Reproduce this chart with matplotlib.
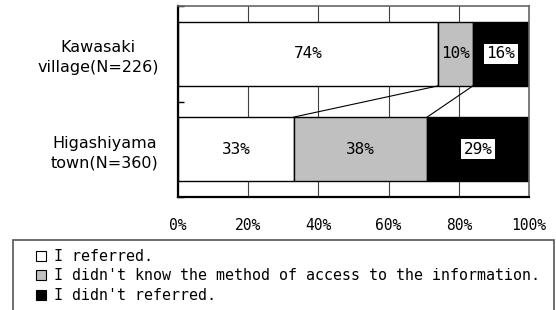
import matplotlib
matplotlib.use("Agg")
import matplotlib.pyplot as plt
from matplotlib.patches import Patch, Rectangle
import numpy as np

categories = ["Kawasaki\nvillage(N=226)", "Higashiyama\ntown(N=360)"]
series_names = ["I referred.",
                "I didn't know the method of access to the information.",
                "I didn't referred."]
referred = [74, 33]
unknown = [10, 38]
not_referred = [16, 29]
xticks = [0, 20, 40, 60, 80, 100]
xtick_labels = ["0%", "20%", "40%", "60%", "80%", "100%"]

colors = ["white", "#c0c0c0", "black"]
MONO = "DejaVu Sans Mono"
SANS = "DejaVu Sans"

W, H = 556, 310
fig = plt.figure(figsize=(W / 100, H / 100), dpi=100)
ax = fig.add_axes([178 / W, 1 - 197 / H, (529 - 178) / W, (197 - 6) / H])

y = np.arange(len(categories))
bh = 0.674
data = [referred, unknown, not_referred]
left = np.zeros(len(categories))
for vals, col, name in zip(data, colors, series_names):
    vals = np.array(vals, dtype=float)
    ax.barh(y, vals, left=left, height=bh, color=col, edgecolor="black",
            linewidth=1.0, label=name, zorder=2)
    for i, (l, v) in enumerate(zip(left, vals)):
        kw = dict(ha="center", va="center", fontsize=11.5, family=MONO, zorder=4,
                  color="black")
        if col == "black":
            kw["bbox"] = dict(boxstyle="square,pad=0.15", facecolor="white",
                              edgecolor="none")
        ax.text(l + v / 2, i, f"{int(v)}%", **kw)
    left = left + vals

# connector (series) lines
c1 = np.cumsum(np.array(data), axis=0)
for k in range(2):
    ax.plot([c1[k][0], c1[k][1]], [0 + bh / 2, 1 - bh / 2], color="black",
            lw=0.8, zorder=3)

ax.set_xlim(0, 100)
ax.set_ylim(1.5, -0.5)
ax.set_xticks(xticks)
ax.set_xticklabels(xtick_labels, fontsize=10.5, family=MONO)
ax.tick_params(axis="x", length=0, pad=15)
ax.set_yticks(y)
ax.set_yticklabels(categories, fontsize=11.5, family=SANS, multialignment="center",
                   linespacing=1.4)
ax.tick_params(axis="y", which="major", length=0, pad=14)
ax.set_yticks([-0.5, 0.5, 1.5], minor=True)
ax.tick_params(axis="y", which="minor", direction="in", length=4.5, width=1.0,
               color="black")
ax.grid(axis="x", color="#404040", lw=0.8, zorder=0)
ax.set_axisbelow(True)
for s in ["left", "bottom"]:
    ax.spines[s].set_linewidth(1.6)
    ax.spines[s].set_color("black")
for s in ["top", "right"]:
    ax.spines[s].set_linewidth(1.2)
    ax.spines[s].set_color("#666666")

# legend frame (cut off at bottom of figure)
fig.patches.append(Rectangle((13 / W, -0.1), (554 - 13) / W, 0.1 + 1 - 240 / H,
                             transform=fig.transFigure, facecolor="white",
                             edgecolor="#555555", lw=1.2, zorder=0))
handles = [Patch(facecolor=c, edgecolor="black", lw=0.8) for c in colors]
leg = fig.legend(handles, series_names, loc="upper left",
                 bbox_to_anchor=(36 / W, 1 - 249 / H), frameon=False,
                 borderpad=0, borderaxespad=0, handlelength=0.68, handleheight=0.68,
                 handletextpad=0.55, labelspacing=0.3,
                 prop=dict(family=MONO, size=10.8))

fig.savefig("out.png", dpi=100)
